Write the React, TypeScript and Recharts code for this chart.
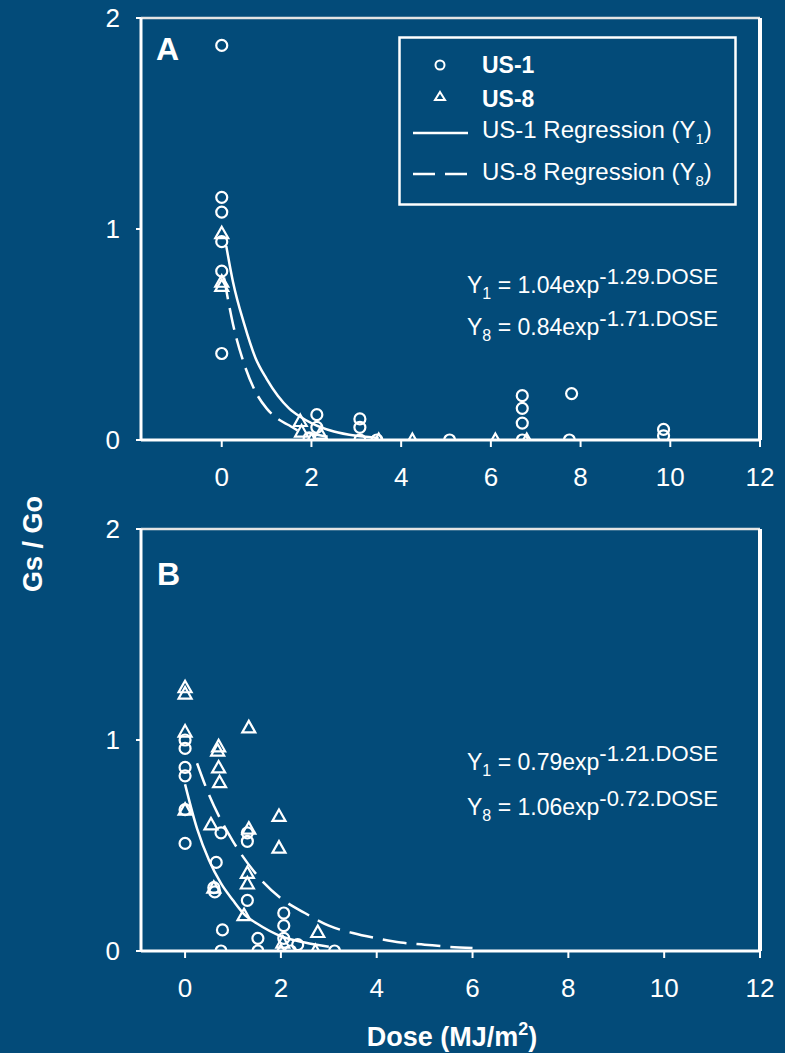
import { ComposedChart, Scatter, Line, XAxis, YAxis, Legend, Customized, ReferenceLine } from "recharts";

const BG = "#034b79";
const INK = "#ffffff";
const FONT = "'Liberation Sans', Arial, sans-serif";

const doseTicks = [0, 2, 4, 6, 8, 10, 12];
const ratioTicks = [0, 1, 2];

// panel A - observed points
const aUs1Dose = [0, 0, 0, 0, 0, 0, 2.12, 2.12, 1.95, 3.08, 3.08, 3.08, 3.46, 5.08, 6.7, 6.7, 6.7, 6.7, 7.8, 7.75, 9.85, 9.85];
const aUs1Ratio = [1.87, 1.15, 1.08, 0.94, 0.8, 0.41, 0.12, 0.06, 0.01, 0.1, 0.06, 0.0, 0.0, 0.0, 0.21, 0.15, 0.08, 0.0, 0.22, 0.0, 0.05, 0.02];
const aUs8Dose = [0, 0, 0, 1.75, 1.78, 2.0, 2.2, 3.5, 4.25, 6.1, 6.8];
const aUs8Ratio = [0.98, 0.75, 0.73, 0.09, 0.04, 0.0, 0.03, 0.0, 0.0, 0.0, 0.0];

// panel A - regression curves
const aFit1Dose = [0.1, 0.25, 0.5, 0.75, 1, 1.25, 1.5, 1.75, 2, 2.5, 3, 3.5];
const aFit1Ratio = [0.92, 0.75, 0.55, 0.39, 0.29, 0.21, 0.15, 0.11, 0.08, 0.04, 0.02, 0.01];
const aFit8Dose = [0.05, 0.25, 0.5, 0.75, 1, 1.25, 1.5, 1.75, 2, 2.5];
const aFit8Ratio = [0.77, 0.55, 0.36, 0.23, 0.15, 0.1, 0.07, 0.04, 0.03, 0.01];

// panel B - observed points
const bUs1Dose = [0, 0, 0, 0, 0, 0, 0.75, 0.65, 0.6, 0.62, 0.78, 0.75, 1.3, 1.3, 1.3, 1.52, 1.52, 2.06, 2.06, 2.06, 2.35, 2.2, 3.12];
const bUs1Ratio = [1.0, 0.96, 0.87, 0.83, 0.67, 0.51, 0.56, 0.42, 0.3, 0.28, 0.1, 0.0, 0.56, 0.52, 0.24, 0.06, 0.0, 0.18, 0.12, 0.06, 0.03, 0.0, 0.0];
const bUs8Dose = [0, 0, 0, 0, 0.7, 0.68, 0.7, 0.72, 0.54, 1.33, 1.33, 1.96, 1.96, 1.3, 1.3, 1.23, 0.6, 2.04, 2.77, 2.72, 2.0];
const bUs8Ratio = [1.25, 1.22, 1.04, 0.67, 0.97, 0.95, 0.87, 0.8, 0.6, 1.06, 0.58, 0.64, 0.49, 0.37, 0.32, 0.17, 0.3, 0.04, 0.09, 0.0, 0.0];

// panel B - regression curves
const bFit1Dose = [0, 0.25, 0.5, 0.75, 1, 1.25, 1.5, 2, 2.5, 3];
const bFit1Ratio = [0.79, 0.58, 0.43, 0.32, 0.24, 0.17, 0.13, 0.07, 0.04, 0.02];
const bFit8Dose = [0.25, 0.5, 0.75, 1, 1.5, 2, 2.5, 3, 3.5, 4, 4.5, 5, 5.5, 6];
const bFit8Ratio = [0.89, 0.74, 0.62, 0.52, 0.36, 0.25, 0.18, 0.12, 0.085, 0.06, 0.04, 0.03, 0.02, 0.014];

const eqA = [
  { sub: "1", coef: "1.04", rate: "-1.29" },
  { sub: "8", coef: "0.84", rate: "-1.71" },
];
const eqB = [
  { sub: "1", coef: "0.79", rate: "-1.21" },
  { sub: "8", coef: "1.06", rate: "-0.72" },
];

const zip = (xs: number[], ys: number[]) => xs.map((x, i) => ({ x, y: ys[i] }));

const Ring = (p: any) => (
  <circle cx={p.cx} cy={p.cy} r={5.5} fill="none" stroke={INK} strokeWidth={2.2} />
);
const Tri = (p: any) => (
  <path
    d={`M${p.cx},${p.cy - 6.5}L${p.cx + 6.5},${p.cy + 5}L${p.cx - 6.5},${p.cy + 5}Z`}
    fill="none"
    stroke={INK}
    strokeWidth={2.2}
  />
);

const Equations = ({ rows, x, y0, gap }: any) => (
  <g>
    {rows.map((r: any, i: number) => (
      <text key={i} x={x} y={y0 + i * gap} fill={INK} fontSize={23} fontFamily={FONT}>
        Y<tspan fontSize={16} dy={6}>{r.sub}</tspan>
        <tspan dy={-6}> = {r.coef}exp</tspan>
        <tspan fontSize={22} dy={-9}>{r.rate}.DOSE</tspan>
      </text>
    ))}
  </g>
);

const LegendBox = () => (
  <svg width={340} height={170} style={{ display: "block" }}>
    <rect x={1.5} y={1.5} width={336} height={167} fill="none" stroke={INK} strokeWidth={2.5} />
    <circle cx={42} cy={29} r={4.5} fill="none" stroke={INK} strokeWidth={2} />
    <text x={84} y={37} fill={INK} fontSize={23} fontWeight="bold" fontFamily={FONT}>US-1</text>
    <path d="M42,56L47,64L37,64Z" fill="none" stroke={INK} strokeWidth={2} />
    <text x={84} y={71} fill={INK} fontSize={23} fontWeight="bold" fontFamily={FONT}>US-8</text>
    <line x1={15} x2={70} y1={97} y2={97} stroke={INK} strokeWidth={2.5} />
    <text x={84} y={102} fill={INK} fontSize={24} fontFamily={FONT}>
      US-1 Regression (Y<tspan fontSize={15} dy={6}>1</tspan><tspan dy={-6}>)</tspan>
    </text>
    <line x1={15} x2={70} y1={138} y2={138} stroke={INK} strokeWidth={2.5} strokeDasharray="22 10" />
    <text x={84} y={144} fill={INK} fontSize={24} fontFamily={FONT}>
      US-8 Regression (Y<tspan fontSize={15} dy={6}>8</tspan><tspan dy={-6}>)</tspan>
    </text>
  </svg>
);

function frameAxes(xMin: number) {
  return [
    <XAxis
      key="xb"
      type="number"
      dataKey="x"
      domain={[xMin, 12]}
      ticks={doseTicks}
      allowDataOverflow
      height={60}
      axisLine={{ stroke: INK, strokeWidth: 3 }}
      tickLine={{ stroke: INK, strokeWidth: 2 }}
      tickSize={7}
      tickMargin={21}
      tick={{ fill: INK, fontSize: 26, fontFamily: FONT }}
    />,
    <YAxis
      key="yl"
      type="number"
      dataKey="y"
      domain={[0, 2]}
      ticks={ratioTicks}
      allowDataOverflow
      width={141}
      axisLine={{ stroke: INK, strokeWidth: 3 }}
      tickLine={{ stroke: INK, strokeWidth: 2 }}
      tickSize={5}
      tickMargin={16}
      tick={{ fill: INK, fontSize: 26, fontFamily: FONT }}
    />,
    // box: top and right edges
    <ReferenceLine key="top" y={2} stroke="#e4e4e4" strokeWidth={2.5} />,
    <ReferenceLine key="right" x={12} stroke={INK} strokeWidth={4} />,
  ];
}

export default function App() {
  return (
    <div style={{ position: "absolute", left: 0, top: 0, width: 785, height: 1053, background: BG, overflow: "hidden" }}>
      <div style={{ position: "absolute", left: 0, top: 0 }}>
        <ComposedChart width={785} height={600} margin={{ top: 18, right: 25, bottom: 100, left: 0 }}>
          {frameAxes(-1.8)}
          <Scatter name="US-1" data={zip(aUs1Dose, aUs1Ratio)} shape={Ring} isAnimationActive={false} />
          <Scatter name="US-8" data={zip(aUs8Dose, aUs8Ratio)} shape={Tri} isAnimationActive={false} />
          <Line data={zip(aFit1Dose, aFit1Ratio)} dataKey="y" type="monotone" stroke={INK} strokeWidth={2.5} dot={false} isAnimationActive={false} />
          <Line data={zip(aFit8Dose, aFit8Ratio)} dataKey="y" type="monotone" stroke={INK} strokeWidth={2.5} strokeDasharray="22 9" dot={false} isAnimationActive={false} />
          <Legend
            layout="vertical"
            align="center"
            verticalAlign="middle"
            wrapperStyle={{ left: 398, top: 36, width: 340, height: 170, margin: 0 }}
            content={() => <LegendBox />}
          />
          <Customized
            component={() => (
              <g>
                <text x={156} y={60} fill={INK} fontSize={32} fontWeight="bold" fontFamily={FONT}>A</text>
                <Equations rows={eqA} x={467} y0={293} gap={42} />
                <text
                  transform="translate(33,544) rotate(-90)"
                  textAnchor="middle"
                  dominantBaseline="central"
                  fill={INK}
                  fontSize={27}
                  fontWeight="bold"
                  fontFamily={FONT}
                >
                  Gs / Go
                </text>
              </g>
            )}
          />
        </ComposedChart>
      </div>
      <div style={{ position: "absolute", left: 0, top: 500 }}>
        <ComposedChart width={785} height={553} margin={{ top: 29, right: 25, bottom: 42, left: 0 }}>
          {frameAxes(-0.92)}
          <Scatter name="US-1" data={zip(bUs1Dose, bUs1Ratio)} shape={Ring} isAnimationActive={false} />
          <Scatter name="US-8" data={zip(bUs8Dose, bUs8Ratio)} shape={Tri} isAnimationActive={false} />
          <Line data={zip(bFit1Dose, bFit1Ratio)} dataKey="y" type="monotone" stroke={INK} strokeWidth={2.5} dot={false} isAnimationActive={false} />
          <Line data={zip(bFit8Dose, bFit8Ratio)} dataKey="y" type="monotone" stroke={INK} strokeWidth={2.5} strokeDasharray="24 10" dot={false} isAnimationActive={false} />
          <Customized
            component={() => (
              <g>
                <text x={157} y={85} fill={INK} fontSize={32} fontWeight="bold" fontFamily={FONT}>B</text>
                <Equations rows={eqB} x={467} y0={270} gap={45} />
                <text x={452} y={546} textAnchor="middle" fill={INK} fontSize={27} fontWeight="bold" fontFamily={FONT}>
                  Dose (MJ/m<tspan fontSize={18} dy={-11}>2</tspan><tspan dy={11}>)</tspan>
                </text>
              </g>
            )}
          />
        </ComposedChart>
      </div>
    </div>
  );
}
